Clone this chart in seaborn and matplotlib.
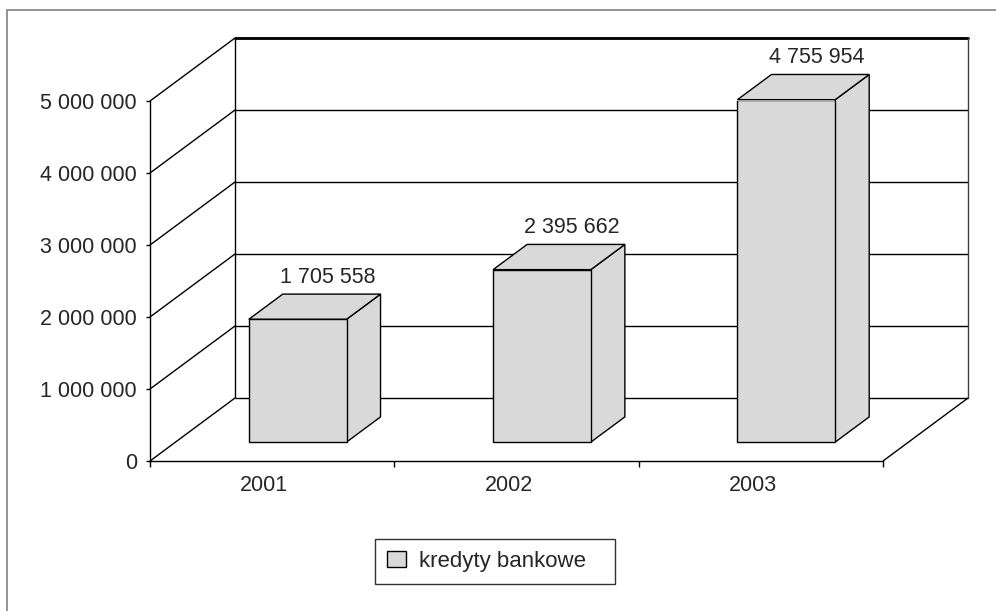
import matplotlib
matplotlib.use("Agg")
import matplotlib.pyplot as plt
import matplotlib.transforms as mtransforms
from matplotlib.patches import Polygon, Rectangle, Patch
import numpy as np
import pandas as pd
import seaborn as sns

# --- data ---------------------------------------------------------------
years = ["2001", "2002", "2003"]
values = [1705558, 2395662, 4755954]
series_name = "kredyty bankowe"
y_ticks = [0, 1000000, 2000000, 3000000, 4000000, 5000000]
y_tick_labels = ["0", "1 000 000", "2 000 000", "3 000 000", "4 000 000", "5 000 000"]

df = pd.DataFrame({"rok": years, "wartosc": values, "seria": series_name})

# --- style --------------------------------------------------------------
sns.set_style("white")
plt.rcParams["font.family"] = ["Liberation Sans", "DejaVu Sans"]

BAR = "#D9D9D9"
DPI = 100
W, H = 996, 611

# depth of the 3-D box in pixels (x to the right, y upwards)
DEPTH_X, DEPTH_Y = 85.0, 63.0
BAR_FRONT = 0.3   # bar front face sits at 30% of the depth
BAR_DEPTH = 0.4   # bars are 40% of the depth deep

fig = plt.figure(figsize=(W / DPI, H / DPI), dpi=DPI)
fig.patch.set_facecolor("white")
ax = fig.add_axes([150 / W, 150 / H, 733 / W, 360 / H])
ax.set_facecolor("none")

sns.barplot(data=df, x="rok", y="wartosc", order=years, color=BAR,
            saturation=1, width=0.4, edgecolor="black", linewidth=1,
            ax=ax, zorder=3)
ax.set_xlim(-0.5, len(years) - 0.5)
ax.set_ylim(0, y_ticks[-1])


def offset_tr(dx, dy):
    return ax.transData + mtransforms.ScaledTranslation(dx / DPI, dy / DPI, fig.dpi_scale_trans)


def shift(x, y, dx, dy):
    """data point moved by (dx, dy) pixels, returned in data coords"""
    px = ax.transData.transform((x, y)) + np.array([dx, dy])
    return ax.transData.inverted().transform(px)


back_tr = offset_tr(DEPTH_X, DEPTH_Y)
x0, x1 = ax.get_xlim()
lk = dict(color="black", lw=1, clip_on=False, solid_capstyle="butt")

# back wall: gridlines and edges
for k in y_ticks:
    ax.plot([x0, x1], [k, k], transform=back_tr, zorder=1, **lk)
ax.plot([x0, x1], [y_ticks[-1]] * 2, transform=back_tr, zorder=1,
        color="black", lw=2, clip_on=False)
ax.plot([x0, x0], [0, y_ticks[-1]], transform=back_tr, zorder=1, **lk)
ax.plot([x1, x1], [0, y_ticks[-1]], transform=back_tr, zorder=1,
        color="#404040", lw=1, clip_on=False)

# left side wall diagonals
for k in y_ticks:
    p = shift(x0, k, DEPTH_X, DEPTH_Y)
    ax.plot([x0, p[0]], [k, p[1]], zorder=1, **lk)
# floor right edge
p = shift(x1, 0, DEPTH_X, DEPTH_Y)
ax.plot([x1, p[0]], [0, p[1]], zorder=1, **lk)

# bars: move front faces back, then add side and top faces
fdx, fdy = BAR_FRONT * DEPTH_X, BAR_FRONT * DEPTH_Y
bdx, bdy = BAR_DEPTH * DEPTH_X, BAR_DEPTH * DEPTH_Y
for bar in ax.patches:
    bx, bw, bh = bar.get_x(), bar.get_width(), bar.get_height()
    bar.set_transform(offset_tr(fdx, fdy))
    bar.set_zorder(4)
    fr_b = shift(bx + bw, 0, fdx, fdy)
    fr_t = shift(bx + bw, bh, fdx, fdy)
    fl_t = shift(bx, bh, fdx, fdy)
    br_b = shift(bx + bw, 0, fdx + bdx, fdy + bdy)
    br_t = shift(bx + bw, bh, fdx + bdx, fdy + bdy)
    bl_t = shift(bx, bh, fdx + bdx, fdy + bdy)
    side = Polygon([fr_b, fr_t, br_t, br_b], closed=True, facecolor=BAR,
                   edgecolor="black", lw=1, zorder=3.5, clip_on=False, joinstyle="miter")
    top = Polygon([fl_t, fr_t, br_t, bl_t], closed=True, facecolor=BAR,
                  edgecolor="black", lw=1, zorder=3.5, clip_on=False, joinstyle="miter")
    ax.add_patch(side)
    ax.add_patch(top)

# value labels above the bars
lab_tr = offset_tr(fdx + bdx - 4, fdy + bdy + 6)
for i, v in enumerate(values):
    ax.text(i, v, f"{v:,}".replace(",", " "), transform=lab_tr,
            ha="center", va="bottom", fontsize=15.5, zorder=5, clip_on=False)

# axes: front spines and ticks
for s in ["top", "right"]:
    ax.spines[s].set_visible(False)
for s in ["left", "bottom"]:
    ax.spines[s].set_color("black")
    ax.spines[s].set_linewidth(1)
    ax.spines[s].set_zorder(2)

ax.set_yticks(y_ticks, labels=y_tick_labels)
ax.set_xticks(range(len(years)), labels=years)
ax.set_xticks(np.arange(len(years) + 1) - 0.5, minor=True)
ax.tick_params(axis="y", direction="out", length=3, width=1, color="black",
               pad=6.5, labelsize=15.5, left=True)
ax.tick_params(axis="x", which="major", length=0, pad=10, labelsize=15.5)
ax.tick_params(axis="x", which="minor", direction="out", length=4, width=1,
               color="black", bottom=True)
ax.set_xlabel("")
ax.set_ylabel("")
for lbl in ax.get_xticklabels():
    lbl.set_transform(lbl.get_transform() +
                      mtransforms.ScaledTranslation(-8 / DPI, 0, fig.dpi_scale_trans))

# legend, stretched to its fixed box
leg = fig.legend(handles=[Patch(facecolor=BAR, edgecolor="black", lw=1)],
                 labels=[series_name], loc="center left", mode="expand",
                 bbox_to_anchor=(375 / W, 1 - 561.5 / H, 240 / W, 0),
                 frameon=True, fancybox=False, shadow=False, fontsize=16,
                 edgecolor="black", handlelength=0.85, handleheight=0.75,
                 handletextpad=0.6, borderpad=0.55, borderaxespad=0)
leg.get_frame().set_linewidth(1)

# outer chart-area frame
fig.add_artist(Rectangle((7 / W, -0.2), 1.2, 1 - 10 / H + 0.2,
                         transform=fig.transFigure, fill=False,
                         edgecolor="#808080", lw=1.2))

fig.savefig("out.png", dpi=DPI, facecolor="white")
